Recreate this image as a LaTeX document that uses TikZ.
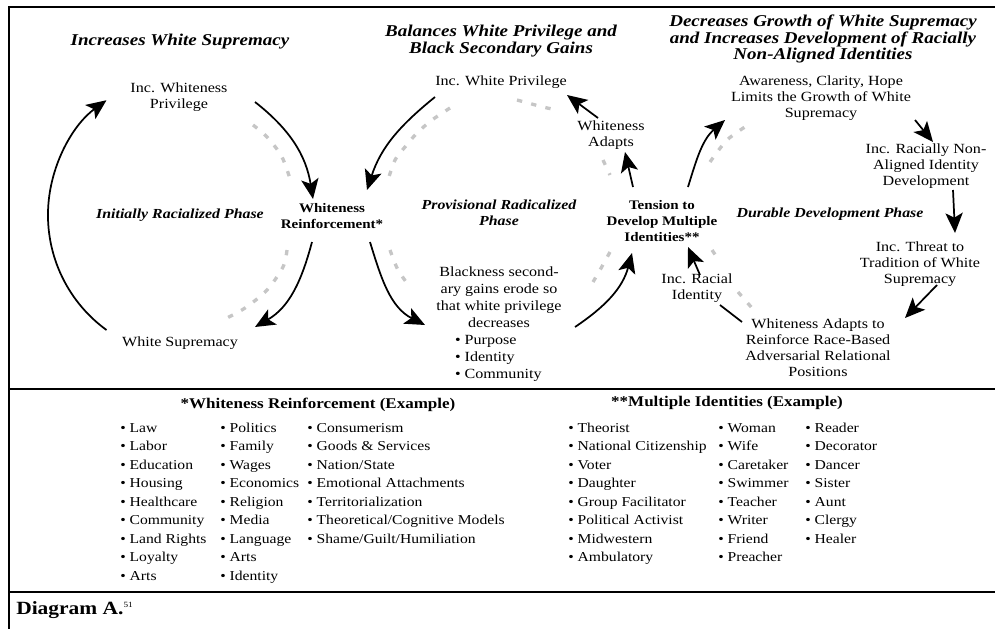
\documentclass[tikz,border=0pt]{standalone}
\usepackage{fontspec}
\setmainfont{Liberation Serif}[FakeStretch=1.15]
\usetikzlibrary{arrows.meta}
\begin{document}
\begin{tikzpicture}[x=0.75pt,y=0.75pt,
  lbl/.style={align=center,inner sep=0pt,font=\fontsize{10.5}{12}\selectfont},
  ttl/.style={align=center,inner sep=0pt,font=\fontsize{12.4}{12.5}\selectfont\bfseries\itshape},
  phase/.style={align=center,inner sep=0pt,font=\fontsize{10.35}{12}\selectfont\bfseries\itshape},
  hub/.style={align=center,inner sep=0pt,font=\fontsize{9.8}{12}\selectfont\bfseries},
  arr/.style={line width=1.3pt,-{Stealth[length=15pt,width=13pt,inset=3.5pt]}},
  ln/.style={line width=1.3pt},
  ghost/.style={line width=2.5pt,gray!45,dash pattern=on 4pt off 7pt},
  frame/.style={line width=1pt},
  item/.style={anchor=base west,inner sep=0pt,font=\fontsize{10.2}{12}\selectfont},
  head/.style={inner sep=0pt,font=\fontsize{11.1}{13}\selectfont\bfseries}
]
\useasboundingbox (0,0) rectangle (995,-629);
% frame
\draw[frame] (8,-7) -- (995,-7);
\draw[frame] (9,-7) -- (9,-629);
\draw[frame] (9,-389) -- (995,-389);
\draw[frame] (9,-592) -- (995,-592);

% titles
\node[ttl] (t1) at (180,-42) {Increases White Supremacy};
\node[ttl] (t2) at (501,-41) {Balances White Privilege and\\Black Secondary Gains};
\node[ttl] (t3) at (823,-39) {Decreases Growth of White Supremacy\\and Increases Development of Racially\\Non-Aligned Identities};

% left cycle
\node[lbl] (iwp) at (179,-97) {Inc. Whiteness\\Privilege};
\node[phase] (irp) at (180,-215) {Initially Racialized Phase};
\node[hub] (wr) at (332,-216) {Whiteness\\Reinforcement*};
\node[lbl] (ws) at (180,-343) {White Supremacy};

% middle cycle
\node[lbl] (iwhp) at (501,-82) {Inc. White Privilege};
\node[lbl] (wa) at (611,-135) {Whiteness\\Adapts};
\node[phase] (prp) at (499,-213) {Provisional Radicalized\\Phase};
\node[hub] (tdm) at (662,-221) {Tension to\\Develop Multiple\\Identities**};
\node[align=center,inner sep=0pt,font=\fontsize{10.5}{12.75}\selectfont] (bsg) at (499,-324)
  {Blackness second-\\ary gains erode so\\that white privilege\\decreases\\
   \makebox[66pt][l]{\textbullet\ Purpose}\\
   \makebox[66pt][l]{\textbullet\ Identity}\\
   \makebox[66pt][l]{\textbullet\ Community}};

% right cycle
\node[lbl] (acw) at (821,-98) {Awareness, Clarity, Hope\\Limits the Growth of White\\Supremacy};
\node[lbl] (irna) at (926,-166) {Inc. Racially Non-\\Aligned Identity\\Development};
\node[phase] (ddp) at (830,-214) {Durable Development Phase};
\node[lbl] (itt) at (920,-264) {Inc. Threat to\\Tradition of White\\Supremacy};
\node[lbl] (iri) at (697,-288) {Inc. Racial\\Identity};
\node[lbl] (wat) at (818,-348) {Whiteness Adapts to\\Reinforce Race-Based\\Adversarial Relational\\Positions};

% ghost dashes
\draw[ghost] plot[smooth] coordinates {(253,-125) (267,-137) (282,-157) (292,-185)};
\draw[ghost] plot[smooth] coordinates {(287,-250) (283,-267) (267,-290) (245,-308) (223,-320)};
\draw[ghost] plot[smooth] coordinates {(450,-108) (432,-120) (417,-133) (405,-147) (395,-160) (387,-183)};
\draw[ghost] plot[smooth] coordinates {(517,-100) (543,-107) (557,-110)};
\draw[ghost] plot[smooth] coordinates {(603,-160) (610,-175)};
\draw[ghost] plot[smooth] coordinates {(390,-250) (398,-270) (410,-287)};
\draw[ghost] plot[smooth] coordinates {(610,-252) (600,-270) (593,-282)};
\draw[ghost] plot[smooth] coordinates {(710,-162) (727,-140) (748,-125)};
\draw[ghost] plot[smooth] coordinates {(712,-250) (716,-256)};
\draw[ghost] plot[smooth] coordinates {(738,-292) (752,-308)};

% connectors, left
\coordinate (a1s) at (106.5,-330);
\draw[arr] (a1s) arc[start angle=234,end angle=126,radius=142];
\coordinate (a2s) at (255,-102); \coordinate (a2e) at (313,-199);
\draw[arr] (a2s) to[out=-38,in=99] (a2e);
\coordinate (a3s) at (312,-242); \coordinate (a3e) at (255,-327);
\draw[arr] (a3s) to[out=-105,in=30] (a3e);
% middle
\coordinate (b1s) at (435,-97); \coordinate (b1e) at (367,-190);
\draw[arr] (b1s) to[out=-141,in=72] (b1e);
\coordinate (b2s) at (370,-242); \coordinate (b2e) at (425,-325);
\draw[arr] (b2s) to[out=-73,in=153] (b2e);
\coordinate (b3s) at (575,-327); \coordinate (b3e) at (632,-253);
\draw[arr] (b3s) to[out=34,in=-105] (b3e);
\coordinate (b4s) at (633,-187); \coordinate (b4e) at (625,-152);
\draw[arr] (b4s) -- (b4e);
\coordinate (b5s) at (598,-118); \coordinate (b5e) at (567,-95);
\draw[arr] (b5s) -- (b5e);
% right
\coordinate (c1s) at (688,-187); \coordinate (c1e) at (725,-120);
\draw[arr] (c1s) to[out=73,in=-139] (c1e);
\coordinate (c2s) at (915,-120); \coordinate (c2e) at (933,-142);
\draw[arr] (c2s) -- (c2e);
\coordinate (c3s) at (953,-190); \coordinate (c3e) at (955,-233);
\draw[arr] (c3s) -- (c3e);
\coordinate (c4s) at (937,-285); \coordinate (c4e) at (905,-318);
\draw[arr] (c4s) -- (c4e);
\coordinate (c5s) at (742,-322); \coordinate (c5e) at (720,-305);
\draw[ln] (c5s) -- (c5e);
\coordinate (c6s) at (700,-275); \coordinate (c6e) at (688,-247);
\draw[arr] (c6s) -- (c6e);

% lower section
\node[head] (h1) at (318,-405) {*Whiteness Reinforcement (Example)};
\node[head] (h2) at (727,-403) {**Multiple Identities (Example)};
\foreach \t [count=\i from 0] in {Law,Labor,Education,Housing,Healthcare,Community,Land Rights,Loyalty,Arts}
  \node[item] (wa\i) at (120,{-432-18.5*\i}) {\textbullet\ \t};
\foreach \t [count=\i from 0] in {Politics,Family,Wages,Economics,Religion,Media,Language,Arts,Identity}
  \node[item] (wb\i) at (220,{-432-18.5*\i}) {\textbullet\ \t};
\foreach \t [count=\i from 0] in {Consumerism,{Goods \& Services},Nation/State,Emotional Attachments,Territorialization,Theoretical/Cognitive Models,Shame/Guilt/Humiliation}
  \node[item] (wc\i) at (307,{-432-18.5*\i}) {\textbullet\ \t};
\foreach \t [count=\i from 0] in {Theorist,National Citizenship,Voter,Daughter,Group Facilitator,Political Activist,Midwestern,Ambulatory}
  \node[item] (ma\i) at (568,{-432-18.5*\i}) {\textbullet\ \t};
\foreach \t [count=\i from 0] in {Woman,Wife,Caretaker,Swimmer,Teacher,Writer,Friend,Preacher}
  \node[item] (mb\i) at (718,{-432-18.5*\i}) {\textbullet\ \t};
\foreach \t [count=\i from 0] in {Reader,Decorator,Dancer,Sister,Aunt,Clergy,Healer}
  \node[item] (mc\i) at (805,{-432-18.5*\i}) {\textbullet\ \t};

\node[anchor=base west,inner sep=0pt,font=\fontsize{14}{15}\selectfont\bfseries] (cap) at (16,-614) {Diagram A.\raisebox{5pt}{\fontsize{6}{7}\selectfont\mdseries 51}};
\end{tikzpicture}
\end{document}
